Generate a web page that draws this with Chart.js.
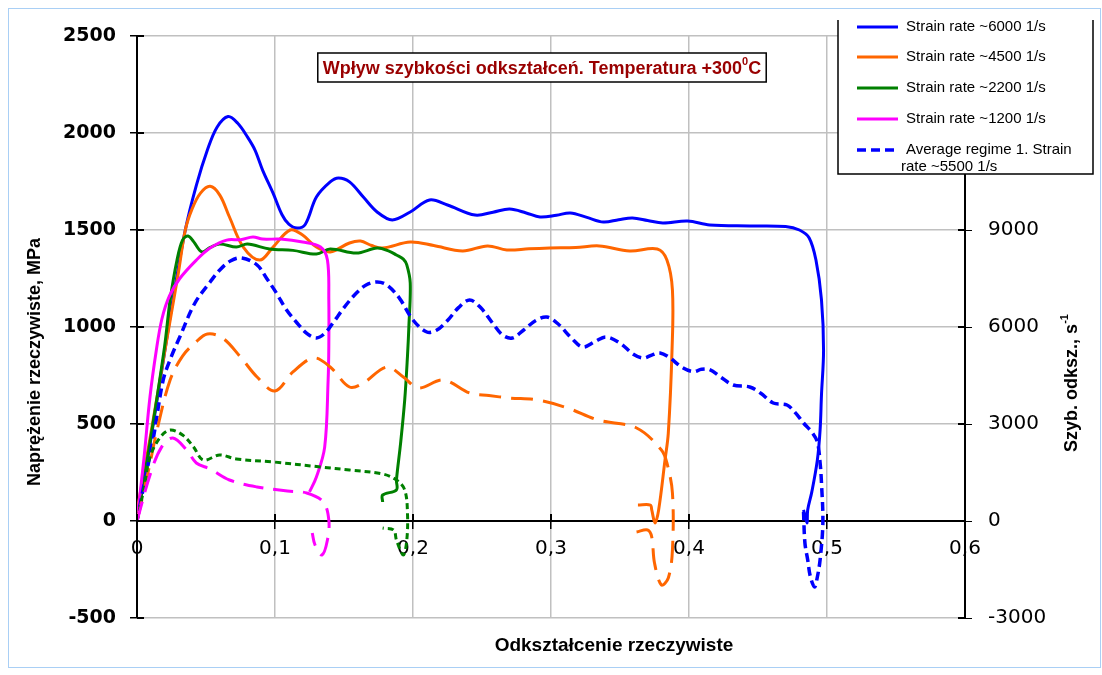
<!DOCTYPE html>
<html>
<head>
<meta charset="utf-8">
<script src="https://cdn.jsdelivr.net/npm/chart.js@4.4.1/dist/chart.umd.min.js"></script>
<style>
  html, body { margin: 0; padding: 0; background: #fff; }
</style>
</head>
<body>
<canvas id="chart" width="1102" height="675"></canvas>
<script>
// true strain / true stress (MPa) for each strain rate
const strain6000 = [0, 0.01, 0.02, 0.026, 0.035, 0.043, 0.051, 0.058, 0.066, 0.073, 0.08, 0.0855, 0.091, 0.0986, 0.105, 0.11, 0.116, 0.122, 0.13, 0.14, 0.146, 0.154, 0.164, 0.174, 0.185, 0.198, 0.212, 0.225, 0.245, 0.258, 0.27, 0.282, 0.292, 0.304, 0.314, 0.326, 0.338, 0.349, 0.359, 0.37, 0.381, 0.399, 0.415, 0.444, 0.47, 0.48, 0.487, 0.492, 0.496, 0.4975, 0.496, 0.495, 0.493, 0.489, 0.486, 0.4855, 0.483];
const stress6000 = [0, 420, 870, 1139, 1500, 1730, 1912, 2030, 2085, 2050, 1980, 1912, 1809, 1690, 1580, 1530, 1510, 1530, 1670, 1748, 1768, 1748, 1670, 1593, 1552, 1593, 1655, 1629, 1577, 1592, 1608, 1588, 1567, 1576, 1588, 1565, 1541, 1553, 1562, 1549, 1536, 1546, 1526, 1521, 1518, 1500, 1460, 1345, 1140, 880, 650, 470, 314, 150, 57, -10, 57];

const strain4500 = [0, 0.01, 0.02, 0.03, 0.035, 0.04, 0.046, 0.053, 0.06, 0.067, 0.077, 0.089, 0.0986, 0.111, 0.12, 0.13, 0.14, 0.154, 0.162, 0.17, 0.178, 0.198, 0.215, 0.236, 0.254, 0.268, 0.284, 0.299, 0.318, 0.335, 0.357, 0.377, 0.384, 0.388, 0.3877, 0.385, 0.3826, 0.378, 0.3754, 0.373, 0.372, 0.363];
const stress4500 = [50, 450, 870, 1280, 1500, 1610, 1690, 1725, 1680, 1567, 1412, 1345, 1412, 1500, 1474, 1412, 1387, 1433, 1443, 1420, 1407, 1438, 1420, 1392, 1418, 1397, 1403, 1407, 1410, 1418, 1392, 1402, 1345, 1190, 880, 453, 314, 57, -10, 57, 82, 82];

const strain2200 = [0, 0.01, 0.02, 0.024, 0.029, 0.033, 0.037, 0.041, 0.047, 0.053, 0.06, 0.072, 0.08, 0.096, 0.113, 0.13, 0.14, 0.159, 0.174, 0.183, 0.188, 0.193, 0.1955, 0.198, 0.197, 0.196, 0.194, 0.191, 0.188, 0.188, 0.178, 0.178];
const stress2200 = [0, 430, 900, 1139, 1345, 1448, 1469, 1440, 1387, 1410, 1428, 1412, 1428, 1402, 1395, 1376, 1402, 1381, 1407, 1390, 1371, 1350, 1320, 1227, 1000, 850, 624, 400, 211, 160, 134, 98];

const strain1200 = [0, 0.005, 0.0094, 0.014, 0.018, 0.0235, 0.031, 0.043, 0.053, 0.065, 0.075, 0.084, 0.091, 0.104, 0.12, 0.133, 0.138, 0.139, 0.139, 0.1385, 0.136, 0.13, 0.125];
const stress1200 = [0, 320, 639, 880, 1040, 1160, 1250, 1345, 1407, 1448, 1450, 1464, 1453, 1453, 1438, 1412, 1345, 1139, 900, 727, 381, 227, 150];

// strain rate (1/s), right axis
const strainAvg = [0, 0.005, 0.012, 0.019, 0.025, 0.031, 0.042, 0.053, 0.06, 0.068, 0.076, 0.087, 0.094, 0.101, 0.108, 0.116, 0.123, 0.13, 0.136, 0.142, 0.15, 0.159, 0.166, 0.174, 0.181, 0.19, 0.2, 0.21, 0.217, 0.225, 0.233, 0.241, 0.249, 0.258, 0.265, 0.272, 0.28, 0.289, 0.297, 0.305, 0.315, 0.323, 0.332, 0.34, 0.35, 0.36, 0.367, 0.373, 0.379, 0.386, 0.395, 0.403, 0.409, 0.415, 0.423, 0.432, 0.444, 0.452, 0.461, 0.471, 0.477, 0.483, 0.489, 0.493, 0.495, 0.496, 0.497, 0.495, 0.493, 0.491, 0.488, 0.486, 0.484, 0.483];
const rateAvg = [0, 1100, 2600, 4361, 5100, 5691, 6743, 7392, 7764, 8050, 8135, 7918, 7500, 7052, 6550, 6124, 5800, 5660, 5800, 6124, 6600, 7052, 7300, 7392, 7300, 6900, 6217, 5846, 5900, 6200, 6600, 6836, 6600, 6100, 5750, 5660, 5900, 6200, 6310, 6100, 5650, 5382, 5550, 5691, 5500, 5150, 5042, 5130, 5196, 5050, 4750, 4620, 4690, 4680, 4450, 4206, 4145, 3950, 3650, 3588, 3350, 3031, 2750, 2443, 1800, 1175, -62, -1200, -1732, -2041, -1732, -1200, -680, 278];

const strainRate4500 = [0, 0.008, 0.015, 0.024, 0.033, 0.042, 0.051, 0.062, 0.075, 0.087, 0.1, 0.113, 0.128, 0.14, 0.154, 0.164, 0.181, 0.193, 0.204, 0.222, 0.241, 0.255, 0.27, 0.29, 0.312, 0.334, 0.362, 0.38, 0.384, 0.388, 0.388, 0.385, 0.38, 0.375, 0.373, 0.37, 0.362];
const rate4500 = [0, 1500, 2900, 4361, 5100, 5506, 5784, 5660, 5073, 4454, 4021, 4609, 5042, 4763, 4145, 4268, 4763, 4454, 4114, 4361, 3959, 3880, 3804, 3743, 3495, 3124, 2876, 2196, 1794, 866, -897, -1763, -1980, -1299, -495, -278, -340];

const strainRate2200 = [0, 0.005, 0.0094, 0.017, 0.024, 0.033, 0.041, 0.048, 0.06, 0.072, 0.099, 0.133, 0.154, 0.178, 0.188, 0.194, 0.196, 0.1955, 0.193, 0.188, 0.186, 0.178];
const rate2200 = [0, 1000, 1980, 2600, 2815, 2660, 2289, 1887, 2041, 1918, 1825, 1670, 1577, 1454, 1268, 959, 247, -588, -1052, -588, -278, -216];

const strainRate1200 = [0, 0.01, 0.018, 0.026, 0.036, 0.043, 0.053, 0.067, 0.087, 0.109, 0.123, 0.135, 0.139, 0.138, 0.134, 0.129, 0.127];
const rate1200 = [0, 1500, 2300, 2567, 2196, 1794, 1608, 1268, 1052, 928, 866, 588, 31, -588, -1052, -742, -371];

const xTicks = [0, 0.1, 0.2, 0.3, 0.4, 0.5, 0.6];
const stressTicks = [-500, 0, 500, 1000, 1500, 2000, 2500];
const rateTicks = [-3000, 0, 3000, 6000, 9000, 12000, 15000];

function pts(xs, ys) {
  return xs.map((v, i) => ({x: v, y: ys[i]}));
}

const BLUE = '#0000ff', ORANGE = '#ff6600', GREEN = '#008000', MAGENTA = '#ff00ff';
const GRID = '#c0c0c0';

function seg(ctx, x1, y1, x2, y2) {
  ctx.beginPath();
  ctx.moveTo(x1, y1);
  ctx.lineTo(x2, y2);
  ctx.stroke();
}

const decorations = {
  id: 'decorations',
  beforeDraw(chart) {
    const ctx = chart.ctx;
    ctx.save();
    ctx.strokeStyle = '#a9cff5';
    ctx.lineWidth = 1;
    ctx.strokeRect(8.5, 8.5, 1092, 659);
    ctx.restore();
  },
  afterDraw(chart) {
    const {ctx, chartArea: area, scales} = chart;
    const {x, y, y2} = scales;
    const y0 = y.getPixelForValue(0);
    ctx.save();

    // inner tick marks
    ctx.strokeStyle = '#000';
    ctx.lineWidth = 2;
    y.ticks.forEach(t => { const p = y.getPixelForValue(t.value); seg(ctx, area.left, p, area.left + 7, p); });
    y2.ticks.forEach(t => { const p = y2.getPixelForValue(t.value); seg(ctx, area.right - 7, p, area.right, p); });
    x.ticks.forEach(t => { const p = x.getPixelForValue(t.value); seg(ctx, p, y0 - 7, p, y0); });

    // title box
    const t1 = 'Wpływ szybkości odkształceń. Temperatura +300', t2 = '0', t3 = 'C';
    const big = 'bold 18px "Liberation Sans", Arial, sans-serif';
    const small = 'bold 11px "Liberation Sans", Arial, sans-serif';
    ctx.font = big;
    const w1 = ctx.measureText(t1).width, w3 = ctx.measureText(t3).width;
    ctx.font = small;
    const w2 = ctx.measureText(t2).width;
    const tw = w1 + w2 + w3, cx = 542;
    ctx.fillStyle = '#fff';
    ctx.fillRect(cx - tw / 2 - 5, 53, tw + 10, 29);
    ctx.strokeStyle = '#000';
    ctx.lineWidth = 1.5;
    ctx.strokeRect(cx - tw / 2 - 5, 53, tw + 10, 29);
    ctx.fillStyle = '#990000';
    ctx.textBaseline = 'alphabetic';
    ctx.textAlign = 'left';
    let tx = cx - tw / 2;
    ctx.font = big; ctx.fillText(t1, tx, 74); tx += w1;
    ctx.font = small; ctx.fillText(t2, tx, 65); tx += w2;
    ctx.font = big; ctx.fillText(t3, tx, 74);

    // axis titles
    ctx.fillStyle = '#000';
    ctx.textAlign = 'center';
    ctx.textBaseline = 'middle';
    ctx.font = 'bold 19px "Liberation Sans", Arial, sans-serif';
    ctx.fillText('Odkształcenie rzeczywiste', 614, 646);

    ctx.save();
    ctx.translate(35, 362);
    ctx.rotate(-Math.PI / 2);
    ctx.font = 'bold 18px "Liberation Sans", Arial, sans-serif';
    ctx.fillText('Naprężenie rzeczywiste, MPa', 0, 0);
    ctx.restore();

    ctx.save();
    ctx.translate(1072, 383);
    ctx.rotate(-Math.PI / 2);
    const r1 = 'Szyb. odksz., s', r2 = '-1';
    ctx.font = 'bold 18px "Liberation Sans", Arial, sans-serif';
    const rw1 = ctx.measureText(r1).width;
    ctx.font = 'bold 11px "Liberation Sans", Arial, sans-serif';
    const rw2 = ctx.measureText(r2).width;
    ctx.textAlign = 'left';
    ctx.font = 'bold 18px "Liberation Sans", Arial, sans-serif';
    ctx.fillText(r1, -(rw1 + rw2) / 2, 0);
    ctx.font = 'bold 11px "Liberation Sans", Arial, sans-serif';
    ctx.fillText(r2, -(rw1 + rw2) / 2 + rw1, -7);
    ctx.restore();

    // legend
    const lx = 838, lr = 1093, lb = 174;
    ctx.fillStyle = '#fff';
    ctx.fillRect(lx, 9, lr - lx, lb - 9);
    ctx.strokeStyle = '#000';
    ctx.lineWidth = 1.5;
    ctx.beginPath();
    ctx.moveTo(lx, 20); ctx.lineTo(lx, lb); ctx.lineTo(lr, lb); ctx.lineTo(lr, 20);
    ctx.stroke();
    const rowsY = [27, 57, 88, 119, 150];
    ctx.font = '15px "Liberation Sans", Arial, sans-serif';
    ctx.textAlign = 'left';
    ctx.textBaseline = 'middle';
    chart.data.datasets.filter(d => d.inLegend).forEach((d, i) => {
      const ry = rowsY[i];
      ctx.strokeStyle = d.borderColor;
      ctx.lineWidth = d.borderWidth;
      ctx.setLineDash(d.borderDash || []);
      seg(ctx, 857, ry, 898, ry);
      ctx.setLineDash([]);
      ctx.fillStyle = '#000';
      const words = d.label.split(' ');
      let line = '', ly = ry, first = true;
      words.forEach(wd => {
        const test = line ? line + ' ' + wd : wd;
        if (ctx.measureText(test).width > 178 && line) {
          ctx.fillText(line, first ? 906 : 901, ly);
          first = false; ly += 17; line = wd;
        } else {
          line = test;
        }
      });
      ctx.fillText(line, first ? 906 : 901, ly);
    });

    ctx.restore();
  }
};

const datasets = [
  {label: 'Strain rate ~6000 1/s', data: pts(strain6000, stress6000), borderColor: BLUE, borderWidth: 3, yAxisID: 'y', inLegend: true},
  {label: 'Strain rate ~4500 1/s', data: pts(strain4500, stress4500), borderColor: ORANGE, borderWidth: 3, yAxisID: 'y', inLegend: true},
  {label: 'Strain rate ~2200 1/s', data: pts(strain2200, stress2200), borderColor: GREEN, borderWidth: 3, yAxisID: 'y', inLegend: true},
  {label: 'Strain rate ~1200 1/s', data: pts(strain1200, stress1200), borderColor: MAGENTA, borderWidth: 3, yAxisID: 'y', inLegend: true},
  {label: 'Average regime 1. Strain rate ~5500 1/s', data: pts(strainAvg, rateAvg), borderColor: BLUE, borderWidth: 3.5, borderDash: [9, 5], yAxisID: 'y2', inLegend: true},
  {label: 'rate 4500', data: pts(strainRate4500, rate4500), borderColor: ORANGE, borderWidth: 3, borderDash: [22, 10], yAxisID: 'y2'},
  {label: 'rate 2200', data: pts(strainRate2200, rate2200), borderColor: GREEN, borderWidth: 3, borderDash: [6, 4], yAxisID: 'y2'},
  {label: 'rate 1200', data: pts(strainRate1200, rate1200), borderColor: MAGENTA, borderWidth: 3, borderDash: [20, 10], yAxisID: 'y2'}
];
datasets.forEach((d, i) => { d.order = 20 - i; d.fill = false; });

const chart = new Chart(document.getElementById('chart'), {
  type: 'line',
  data: {datasets: datasets},
  plugins: [decorations],
  options: {
    responsive: false,
    animation: false,
    layout: {padding: {top: 36, bottom: 57, left: 0, right: 0}},
    elements: {point: {radius: 0}, line: {tension: 0.35}},
    plugins: {legend: {display: false}, tooltip: {enabled: false}},
    scales: {
      x: {
        type: 'linear',
        position: {y: 0},
        min: 0, max: 0.6,
        afterBuildTicks: s => { s.ticks = xTicks.map(v => ({value: v})); },
        ticks: {
          padding: 9,
          color: '#000',
          font: {family: 'DejaVu Sans', size: 20},
          callback: v => String(+v.toFixed(1)).replace('.', ',')
        },
        grid: {color: GRID, lineWidth: 1.5, tickColor: '#000', tickLength: 7},
        border: {color: '#000', width: 2}
      },
      y: {
        position: 'left',
        min: -500, max: 2500,
        afterBuildTicks: s => { s.ticks = stressTicks.map(v => ({value: v})); },
        afterFit: s => { s.width = 137; },
        ticks: {padding: 14, color: '#000', font: {family: 'DejaVu Sans', size: 19, weight: 'bold'}, callback: v => String(v)},
        grid: {color: GRID, lineWidth: 1.5, tickColor: '#000', tickLength: 7},
        border: {color: '#000', width: 2}
      },
      y2: {
        position: 'right',
        min: -3000, max: 15000,
        afterBuildTicks: s => { s.ticks = rateTicks.map(v => ({value: v})); },
        afterFit: s => { s.width = 137; },
        ticks: {padding: 16, color: '#000', font: {family: 'DejaVu Sans', size: 20}, callback: v => String(v)},
        grid: {drawOnChartArea: false, tickColor: '#000', tickLength: 7},
        border: {color: '#000', width: 2}
      }
    }
  }
});
</script>
</body>
</html>
